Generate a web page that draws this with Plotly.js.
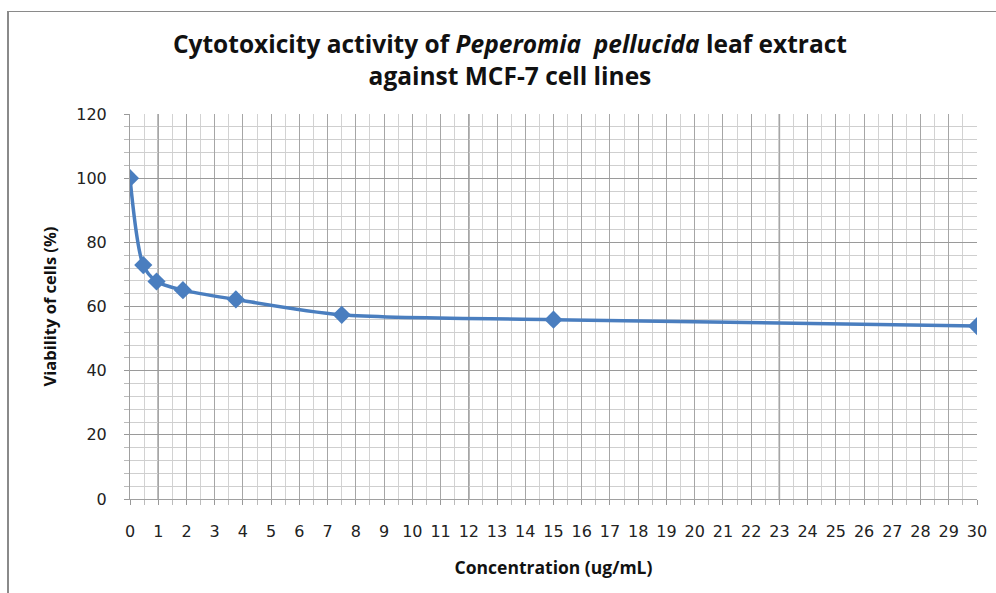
<!DOCTYPE html>
<html>
<head>
<meta charset="utf-8">
<script src="https://cdn.plot.ly/plotly-3.0.1.min.js"></script>
<style>
html,body{margin:0;padding:0;background:#fff;}
#chart{width:996px;height:593px;}
#frame{position:absolute;left:7px;top:11px;width:989px;height:582px;border-top:1px solid #8a8a8a;border-left:2px solid #8a8a8a;pointer-events:none;}
</style>
</head>
<body>
<div id="chart"></div>
<div id="frame"></div>
<script>
// Data
const concentration = [0, 0.47, 0.94, 1.875, 3.75, 7.5, 15, 30];   // ug/mL
const viability     = [100, 72.9, 67.8, 65.1, 62.2, 57.4, 55.9, 53.9]; // %
const xTickValues = Array.from({length: 31}, (_, i) => i);
const xTickLabels = xTickValues.map(String);
const yTickValues = [0, 20, 40, 60, 80, 100, 120];
const yTickLabels = yTickValues.map(String);
const emphasisLines = [1, 12, 23];

const blue = '#4a7ebf';

const trace = {
  x: concentration,
  y: viability,
  type: 'scatter',
  mode: 'lines+markers',
  line: {color: blue, width: 3.5, shape: 'spline', smoothing: 0.8},
  marker: {symbol: 'diamond', size: 14, color: blue},
  hoverinfo: 'x+y'
};

const tickFont = {family: '"DejaVu Sans", sans-serif', size: 16, color: '#222'};

const layout = {
  width: 996,
  height: 593,
  margin: {l: 130, r: 19, t: 114, b: 94},
  paper_bgcolor: '#fff',
  plot_bgcolor: '#fff',
  showlegend: false,
  title: {
    text: '<b>Cytotoxicity activity of <i>Peperomia  pellucida</i> leaf extract<br>against MCF-7 cell lines</b>',
    font: {family: '"Open Sans", sans-serif', size: 24.5, color: '#111'},
    xref: 'container', x: 0.512, xanchor: 'center',
    yref: 'container', y: 0.91, yanchor: 'top',
    pad: {t: 0}
  },
  xaxis: {
    range: [0, 30],
    tickmode: 'array',
    tickvals: xTickValues,
    ticktext: xTickLabels,
    ticks: 'outside', ticklen: 5, tickcolor: '#999', tickwidth: 1,
    tickfont: tickFont,
    ticklabelstandoff: 13,
    showgrid: true, gridcolor: '#a6a6a6', gridwidth: 1,
    minor: {dtick: 0.5, showgrid: true, gridcolor: '#d2d2d2', gridwidth: 1, ticks: 'outside', ticklen: 5, tickcolor: '#bbb'},
    showline: true, linecolor: '#a0a0a0', linewidth: 1,
    zeroline: false,
    title: {text: '<b>Concentration (ug/mL)</b>', font: {family: '"Open Sans", sans-serif', size: 17.5, color: '#111'}, standoff: 21}
  },
  yaxis: {
    range: [0, 120],
    tickmode: 'array',
    tickvals: yTickValues,
    ticktext: yTickLabels,
    ticks: 'outside', ticklen: 5, tickcolor: '#999', tickwidth: 1,
    tickfont: tickFont,
    ticklabelstandoff: 14,
    showgrid: true, gridcolor: '#9a9a9a', gridwidth: 1,
    minor: {dtick: 4, showgrid: true, gridcolor: '#cfcfcf', gridwidth: 1, ticks: 'outside', ticklen: 5, tickcolor: '#bbb'},
    showline: true, linecolor: '#a0a0a0', linewidth: 1,
    zeroline: false,
    title: {text: '<b>Viability of cells (%)</b>', font: {family: '"Open Sans", sans-serif', size: 16.5, color: '#111'}, standoff: 15}
  },
  shapes: emphasisLines.map(v => ({
    type: 'line', xref: 'x', yref: 'paper', x0: v, x1: v, y0: 0, y1: 1,
    line: {color: '#808080', width: 1.5}, layer: 'below'
  }))
};

Plotly.newPlot('chart', [trace], layout, {displayModeBar: false, staticPlot: true});
</script>
</body>
</html>
